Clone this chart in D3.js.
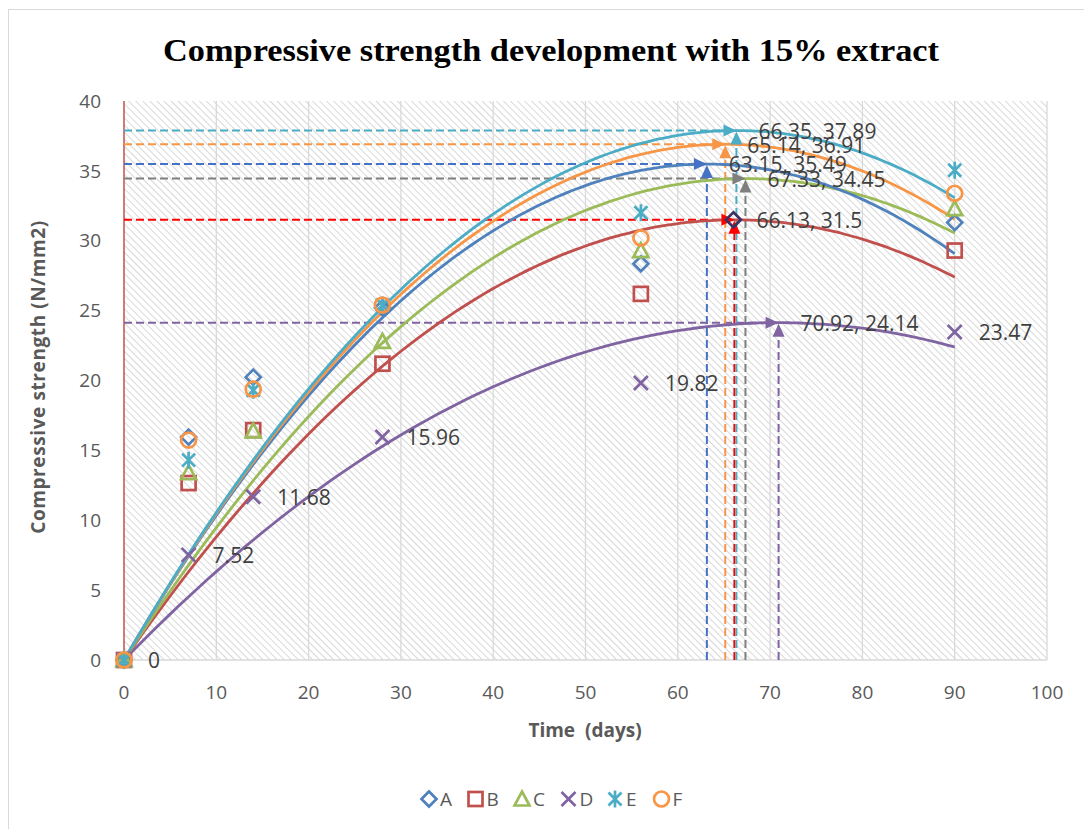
<!DOCTYPE html>
<html lang="en">
<head>
    <meta charset="UTF-8">
    <title>Compressive strength development</title>
    <script src="https://d3js.org/d3.v7.min.js"></script>
    <style>
        body { margin: 0; background: #fff; }
        svg { display: block; }
        text { font-family: "Open Sans", "Liberation Sans", sans-serif; }
        text.title { font-family: "Liberation Serif", "DejaVu Serif", serif; }
    </style>
</head>
<body>
<svg width="1084" height="829"></svg>

<script>
    // curing age (days)
    const days = [0, 7, 14, 28, 56, 90];

    // measured strengths per mix (N/mm2)
    const seriesA = [0, 15.95, 20.24, 25.2, 28.35, 31.3];
    const seriesB = [0, 12.66, 16.45, 21.2, 26.2, 29.3];
    const seriesC = [0, 13.4, 16.4, 22.8, 29.3, 32.3];
    const seriesD = [0, 7.52, 11.68, 15.96, 19.82, 23.47];
    const seriesE = [0, 14.3, 19.3, 25.4, 32.0, 35.05];
    const seriesF = [0, 15.74, 19.38, 25.4, 30.2, 33.4];

    // peak of each polynomial trendline (x, y)
    const peakX = [63.15, 66.13, 67.33, 70.92, 66.35, 65.14];
    const peakY = [35.49, 31.5, 34.45, 24.14, 37.89, 36.91];

    const names = ["A", "B", "C", "D", "E", "F"];
    const symbols = ["diamond", "square", "triangle", "cross", "star", "circle"];
    const colors = ["#4F81BD", "#C0504D", "#9BBB59", "#8064A2", "#4BACC6", "#F79646"];
    const guideColors = ["#4472C4", "#FF0000", "#7F7F7F", "#8064A2", "#4BACC6", "#F79646"];

    const xTicks = d3.range(0, 101, 10);
    const yTicks = d3.range(0, 41, 5);

    const allSeries = [seriesA, seriesB, seriesC, seriesD, seriesE, seriesF];

    let svg = d3.select("svg");

    // chart frame
    svg.append("rect")
        .attr("x", 8.5).attr("y", 9.5)
        .attr("width", 1100).attr("height", 840)
        .attr("fill", "none").attr("stroke", "#d9d9d9");

    const x = d3.scaleLinear().domain([0, 100]).range([124, 1047]);
    const y = d3.scaleLinear().domain([0, 40]).range([660, 101]);

    // hatch fill of plot area
    let defs = svg.append("defs");
    let pat = defs.append("pattern")
        .attr("id", "hatch")
        .attr("patternUnits", "userSpaceOnUse")
        .attr("width", 5).attr("height", 5)
        .attr("patternTransform", "rotate(45)");
    pat.append("rect").attr("width", 5).attr("height", 5).attr("fill", "#fff");
    pat.append("line")
        .attr("x1", 0).attr("y1", 0).attr("x2", 5).attr("y2", 0)
        .attr("stroke", "#cfcfcf").attr("stroke-width", 1.6);

    svg.append("rect")
        .attr("x", x(0)).attr("y", y(40))
        .attr("width", x(100) - x(0)).attr("height", y(0) - y(40))
        .attr("fill", "url(#hatch)");

    // vertical gridlines
    svg.append("g").selectAll("line")
        .data(xTicks.slice(1))
        .enter().append("line")
        .attr("x1", d => x(d)).attr("x2", d => x(d))
        .attr("y1", y(40)).attr("y2", y(0))
        .attr("stroke", "#d9d9d9").attr("stroke-width", 1.3);

    // x axis line + y axis line
    svg.append("line")
        .attr("x1", x(0)).attr("x2", x(100))
        .attr("y1", y(0)).attr("y2", y(0))
        .attr("stroke", "#d9d9d9").attr("stroke-width", 1.3);
    svg.append("line")
        .attr("x1", x(0)).attr("x2", x(0))
        .attr("y1", y(40)).attr("y2", y(0))
        .attr("stroke", "#C0504D").attr("stroke-width", 1.5);

    // tick labels
    svg.append("g").selectAll("text")
        .data(yTicks)
        .enter().append("text")
        .attr("x", 101).attr("y", d => y(d))
        .attr("dy", "0.35em")
        .attr("text-anchor", "end")
        .attr("font-size", 19).attr("fill", "#595959")
        .text(d => d);
    svg.append("g").selectAll("text")
        .data(xTicks)
        .enter().append("text")
        .attr("x", d => x(d)).attr("y", 692)
        .attr("dy", "0.35em")
        .attr("text-anchor", "middle")
        .attr("font-size", 19).attr("fill", "#595959")
        .text(d => d);

    // axis titles
    svg.append("text")
        .attr("x", 585).attr("y", 730)
        .attr("dy", "0.35em")
        .attr("text-anchor", "middle")
        .attr("font-size", 19).attr("font-weight", "bold").attr("fill", "#595959")
        .attr("xml:space", "preserve")
        .text("Time  (days)");
    svg.append("text")
        .attr("transform", "translate(38,377) rotate(-90)")
        .attr("dy", "0.35em")
        .attr("text-anchor", "middle")
        .attr("font-size", 19).attr("font-weight", "bold").attr("fill", "#595959")
        .attr("letter-spacing", 0.6)
        .text("Compressive strength (N/mm2)");

    // title
    svg.append("text")
        .attr("class", "title")
        .attr("x", 551).attr("y", 50)
        .attr("dy", "0.35em")
        .attr("text-anchor", "middle")
        .attr("font-size", 31).attr("font-weight", "bold").attr("fill", "#000")
        .attr("textLength", 776).attr("lengthAdjust", "spacingAndGlyphs")
        .text("Compressive strength development with 15% extract");

    // dashed guide lines to each peak
    let guides = svg.append("g");
    peakX.forEach(function (px, i) {
        guides.append("line")
            .attr("x1", x(0)).attr("x2", x(px) - 10)
            .attr("y1", y(peakY[i])).attr("y2", y(peakY[i]))
            .attr("stroke", guideColors[i]).attr("stroke-width", 2)
            .attr("stroke-dasharray", "8,4");
        guides.append("line")
            .attr("x1", x(px)).attr("x2", x(px))
            .attr("y1", y(0)).attr("y2", y(peakY[i]) + 10)
            .attr("stroke", guideColors[i]).attr("stroke-width", 2)
            .attr("stroke-dasharray", "8,4");
    });

    // polynomial trendlines (through origin, vertex at peak)
    const line = d3.line()
        .x(d => x(d[0])).y(d => y(d[1]))
        .curve(d3.curveBasis);
    const order = [3, 1, 2, 0, 5, 4];
    order.forEach(function (i) {
        let pts = d3.range(0, 90.5, 1).map(function (t) {
            let u = 1 - t / peakX[i];
            return [t, peakY[i] * (1 - u * u)];
        });
        svg.append("path")
            .attr("d", line(pts))
            .attr("fill", "none")
            .attr("stroke", colors[i]).attr("stroke-width", 2.8);
    });

    // arrowheads
    let arrows = svg.append("g");
    peakX.forEach(function (px, i) {
        arrows.append("path")
            .attr("d", "M0,0 L-13,-6 L-13,6 Z")
            .attr("transform", "translate(" + x(px) + "," + y(peakY[i]) + ")")
            .attr("fill", guideColors[i]);
        arrows.append("path")
            .attr("d", "M0,0 L-6,13 L6,13 Z")
            .attr("transform", "translate(" + x(px) + "," + (y(peakY[i]) + 1) + ")")
            .attr("fill", guideColors[i]);
    });

    // marker shapes
    function drawMarker(g, sym, color, cx, cy) {
        let m = g.append("g").attr("transform", "translate(" + cx + "," + cy + ")");
        const w = 2.7;
        if (sym === "diamond") {
            m.append("path").attr("d", "M0,-7.5 L7.5,0 L0,7.5 L-7.5,0 Z")
                .attr("fill", "none").attr("stroke", color).attr("stroke-width", w);
        } else if (sym === "square") {
            m.append("rect").attr("x", -7).attr("y", -7).attr("width", 14).attr("height", 14)
                .attr("fill", "none").attr("stroke", color).attr("stroke-width", w);
        } else if (sym === "triangle") {
            m.append("path").attr("d", "M0,-7.5 L7.5,6.5 L-7.5,6.5 Z")
                .attr("fill", "none").attr("stroke", color).attr("stroke-width", w);
        } else if (sym === "cross") {
            m.append("path").attr("d", "M-7,-7 L7,7 M7,-7 L-7,7")
                .attr("fill", "none").attr("stroke", color).attr("stroke-width", w);
        } else if (sym === "star") {
            m.append("path").attr("d", "M-6.5,-6.5 L6.5,6.5 M6.5,-6.5 L-6.5,6.5 M0,-8.5 L0,8.5")
                .attr("fill", "none").attr("stroke", color).attr("stroke-width", w);
        } else if (sym === "circle") {
            m.append("circle").attr("r", 7.5)
                .attr("fill", "none").attr("stroke", color).attr("stroke-width", w);
        }
    }

    // data markers
    let marks = svg.append("g");
    allSeries.forEach(function (vals, i) {
        vals.forEach(function (v, j) {
            drawMarker(marks, symbols[i], colors[i], x(days[j]), y(v));
        });
    });
    // dark marker at B's peak
    drawMarker(marks, "diamond", "#3B3261", x(peakX[1]) - 1, y(peakY[1]));

    // data labels for D
    svg.append("g").selectAll("text")
        .data(seriesD)
        .enter().append("text")
        .attr("x", (d, j) => x(days[j]) + 24)
        .attr("y", d => y(d) + 1)
        .attr("dy", "0.35em")
        .attr("font-size", 21).attr("fill", "#404040")
        .text(d => d);

    // peak labels
    svg.append("g").selectAll("text")
        .data(peakX)
        .enter().append("text")
        .attr("x", d => x(d) + 22)
        .attr("y", (d, i) => y(peakY[i]) + 1)
        .attr("dy", "0.35em")
        .attr("font-size", 21).attr("fill", "#404040")
        .text((d, i) => d + ", " + peakY[i]);

    // legend
    let legend = svg.append("g");
    names.forEach(function (n, i) {
        let lx = 429 + i * 46.5;
        drawMarker(legend, symbols[i], colors[i], lx, 799);
        legend.append("text")
            .attr("x", lx + 11).attr("y", 799)
            .attr("dy", "0.35em")
            .attr("font-size", 19).attr("fill", "#595959")
            .text(n);
    });
</script>
</body>
</html>
